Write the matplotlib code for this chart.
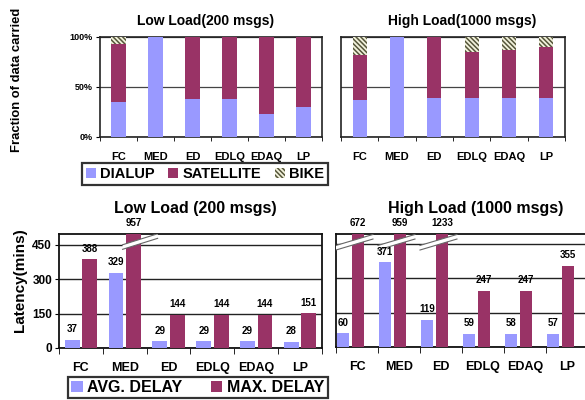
import matplotlib
matplotlib.use('Agg')
import matplotlib.pyplot as plt
import numpy as np
from matplotlib.patches import Patch, Polygon

plt.rcParams['font.family'] = ['Liberation Sans', 'DejaVu Sans']
plt.rcParams['font.weight'] = 'bold'
plt.rcParams['hatch.linewidth'] = 1.1

categories = ['FC', 'MED', 'ED', 'EDLQ', 'EDAQ', 'LP']

# fraction of data carried (%)
low_dialup = [35, 100, 38, 38, 23, 30]
low_satellite = [58, 0, 62, 62, 77, 70]
low_bike = [7, 0, 0, 0, 0, 0]
high_dialup = [37, 100, 39, 39, 39, 39]
high_satellite = [45, 0, 61, 46, 48, 51]
high_bike = [18, 0, 0, 15, 13, 10]

# latency (mins)
low_avg = [37, 329, 29, 29, 29, 28]
low_max = [388, 957, 144, 144, 144, 151]
high_avg = [60, 371, 119, 59, 58, 57]
high_max = [672, 959, 1233, 247, 247, 355]

BLUE = '#9999FF'
MAROON = '#993366'
BIKE_FC = '#f2f2dc'
BIKE_HC = '#55553a'
HATCH = '\\' * 7

fig = plt.figure(figsize=(5.85, 4.0), dpi=100)
W, H = 585.0, 400.0


def ax_at(x0, y0, x1, y1):
    return fig.add_axes([x0 / W, 1 - y1 / H, (x1 - x0) / W, (y1 - y0) / H])


def stacked(ax, d, s, b, title, tx, show_y):
    x = np.arange(len(categories))
    d = np.array(d, float); s = np.array(s, float); b = np.array(b, float)
    ax.bar(x, d, 0.38, color=BLUE, linewidth=0, zorder=3)
    ax.bar(x, s, 0.38, bottom=d, color=MAROON, linewidth=0, zorder=3)
    ax.bar(x, b, 0.38, bottom=d + s, color=BIKE_FC, edgecolor=BIKE_HC,
           hatch=HATCH, linewidth=0, zorder=3)
    ax.set_xlim(-0.5, len(categories) - 0.5)
    ax.set_ylim(0, 100)
    ax.set_xticks(x)
    ax.set_xticklabels(categories, fontsize=8, fontweight='bold')
    ax.set_xticks(np.arange(len(categories) + 1) - 0.5, minor=True)
    ax.tick_params(axis='x', which='major', length=0, pad=11)
    ax.tick_params(axis='x', which='minor', length=3, direction='out')
    ax.set_yticks([0, 50, 100])
    if show_y:
        ax.set_yticklabels(['0%', '50%', '100%'], fontsize=6.5, fontweight='bold')
        ax.tick_params(axis='y', length=3, direction='out', pad=2)
    else:
        ax.set_yticklabels([])
        ax.tick_params(axis='y', length=0)
    ax.yaxis.grid(True, color='#444444', linewidth=0.9)
    ax.set_axisbelow(True)
    for sp in ax.spines.values():
        sp.set_linewidth(1.2)
        sp.set_color('#222222')
    ax.set_title(title, fontsize=10, fontweight='bold', x=tx, pad=9)


def latency(ax, avg, mx, offs, width, title, tx, show_y, brk, ytop, yc):
    x = np.arange(len(categories))
    ax.bar(x + offs[0], avg, width, color=BLUE, linewidth=0, zorder=3)
    ax.bar(x + offs[1], mx, width, color=MAROON, linewidth=0, zorder=3)
    ax.set_xlim(-0.5, len(categories) - 0.5)
    ax.set_ylim(0, ytop)
    for xi, v in zip(x + offs[0], avg):
        ax.annotate(str(v), (xi, min(v, ytop)), xytext=(0, 4), textcoords='offset points',
                    ha='center', va='bottom', fontsize=7, fontweight='bold',
                    annotation_clip=False, zorder=6)
    for xi, v in zip(x + offs[1], mx):
        ax.annotate(str(v), (xi, min(v, ytop)), xytext=(0, 4), textcoords='offset points',
                    ha='center', va='bottom', fontsize=7, fontweight='bold',
                    annotation_clip=False, zorder=6)
        if v > ytop:
            rise, th = 48, 20
            x0, x1 = xi + brk[0], xi + brk[1]
            pts = [(x0, yc - rise / 2 - th / 2), (x1, yc + rise / 2 - th / 2),
                   (x1, yc + rise / 2 + th / 2), (x0, yc - rise / 2 + th / 2)]
            ax.add_patch(Polygon(pts, closed=True, facecolor='white', edgecolor='none', zorder=4))
            ax.plot([x0, x1], [yc - rise / 2 - th / 2, yc + rise / 2 - th / 2],
                    color='#666666', lw=0.8, zorder=5)
            ax.plot([x0, x1], [yc - rise / 2 + th / 2, yc + rise / 2 + th / 2],
                    color='#666666', lw=0.8, zorder=5)
    ax.set_xticks(x)
    ax.set_xticklabels(categories, fontsize=9, fontweight='bold')
    ax.set_xticks(np.arange(len(categories) + 1) - 0.5, minor=True)
    ax.tick_params(axis='x', which='major', length=0, pad=10)
    ax.tick_params(axis='x', which='minor', length=4, direction='out')
    ax.set_yticks([0, 150, 300, 450])
    if show_y:
        ax.set_yticklabels(['0', '150', '300', '450'], fontsize=8.5, fontweight='bold')
        ax.tick_params(axis='y', length=3, direction='out', pad=2)
    else:
        ax.set_yticklabels([])
        ax.tick_params(axis='y', length=0)
    ax.yaxis.grid(True, color='#222222', linewidth=1.0)
    ax.set_axisbelow(True)
    for sp in ax.spines.values():
        sp.set_linewidth(1.3)
        sp.set_color('#111111')
    ax.set_title(title, fontsize=11.5, fontweight='bold', x=tx, pad=15)


ax1 = ax_at(100, 37, 322, 137)
stacked(ax1, low_dialup, low_satellite, low_bike, 'Low Load(200 msgs)', 0.477, True)
ax2 = ax_at(341, 37, 565, 137)
stacked(ax2, high_dialup, high_satellite, high_bike, 'High Load(1000 msgs)', 0.54, False)

ax3 = ax_at(59, 234, 322, 348)
latency(ax3, low_avg, low_max, (-0.2, 0.2), 0.34, 'Low Load (200 msgs)', 0.518, True,
        (-0.25, 0.55), 498, 465)
ax4 = ax_at(336, 234, 588, 347)
latency(ax4, high_avg, high_max, (-0.33, 0.02), 0.3, 'High Load (1000 msgs)', 0.556, False,
        (-0.52, 0.36), 494, 458)

fig.text(17 / W, 1 - 80 / H, 'Fraction of data carried', rotation=90, ha='center', va='center',
         fontsize=9.4, fontweight='bold')
fig.text(20 / W, 1 - 280 / H, 'Latency(mins)', rotation=90, ha='center', va='center',
         fontsize=11, fontweight='bold')

h1 = [Patch(facecolor=BLUE, edgecolor='none'), Patch(facecolor=MAROON, edgecolor='none'),
      Patch(facecolor=BIKE_FC, edgecolor=BIKE_HC, hatch=HATCH, linewidth=0)]
leg1 = fig.legend(h1, ['DIALUP', 'SATELLITE', 'BIKE'], loc='center',
                  bbox_to_anchor=(205 / W, 1 - 174 / H), ncol=3, frameon=True, fancybox=False,
                  prop={'size': 10.5, 'weight': 'bold'}, handlelength=0.7, handleheight=0.7,
                  handletextpad=0.3, columnspacing=0.9, borderpad=0.25, borderaxespad=0)
leg1.get_frame().set_edgecolor('black')
leg1.get_frame().set_linewidth(1.6)

h2 = [Patch(facecolor=BLUE, edgecolor='none'), Patch(facecolor=MAROON, edgecolor='none')]
leg2 = fig.legend(h2, ['AVG. DELAY', 'MAX. DELAY'], loc='center',
                  bbox_to_anchor=(198 / W, 1 - 387.5 / H), ncol=2, frameon=True, fancybox=False,
                  prop={'size': 11.5, 'weight': 'bold'}, handlelength=0.7, handleheight=0.7,
                  handletextpad=0.3, columnspacing=1.8, borderpad=0.2, borderaxespad=0)
leg2.get_frame().set_edgecolor('black')
leg2.get_frame().set_linewidth(1.6)

fig.savefig('out.png', dpi=100)
